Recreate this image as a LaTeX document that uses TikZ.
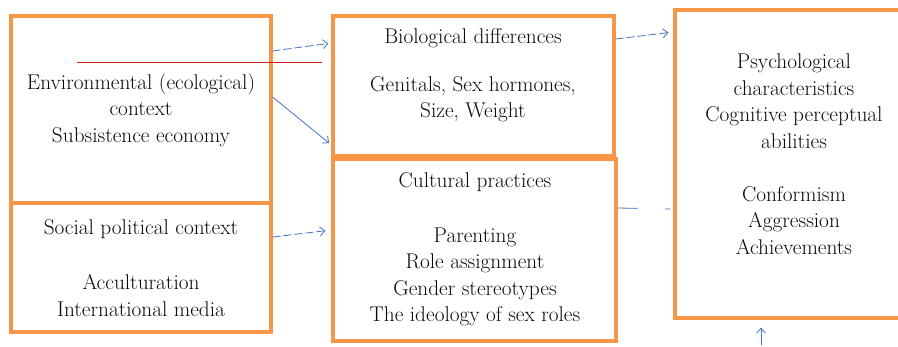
\documentclass[tikz,border=0pt]{standalone}
\usetikzlibrary{arrows.meta}
\definecolor{boxorange}{RGB}{247,150,70}
\definecolor{arrowblue}{RGB}{68,114,196}
\definecolor{redline}{RGB}{200,30,30}
\definecolor{txt}{RGB}{10,10,10}
\tikzset{
  box/.style={draw=boxorange, line width=3.2pt, rectangle, inner sep=0pt},
  boxtext/.style={align=center, inner sep=0pt, text=txt, font=\fontsize{21.3}{26.5}\selectfont},
  conn/.style={draw=arrowblue, line width=0.8pt, -{Straight Barb[length=5pt,width=9pt]}},
  dashconn/.style={conn, dash pattern=on 8pt off 3pt},
}
\begin{document}
\begin{tikzpicture}[x=1pt,y=-1pt]
\useasboundingbox (0,0) rectangle (898,346);
% boxes
\node[box, minimum width=260pt, minimum height=187pt] (env) at (141,109.5) {};
\node[box, minimum width=260pt, minimum height=129pt] (soc) at (141,267.5) {};
\node[box, minimum width=281pt, minimum height=140pt] (bio) at (473.5,86) {};
\node[box, minimum width=283pt, minimum height=182pt] (cult) at (474.5,250) {};
\node[box, minimum width=238pt, minimum height=308pt] (psy) at (794,164) {};
% texts
\node[boxtext] (envtext) at (141,110) {Environmental (ecological)\\context\\Subsistence economy};
\node[boxtext] (soctext) at (141,268) {Social political context\\[28.5pt]Acculturation\\International media};
\node[boxtext] (biotext) at (473,75) {Biological differences\\[21.5pt]Genitals, Sex hormones,\\Size, Weight};
\node[boxtext] (culttext) at (475,249) {Cultural practices\\[28.5pt]Parenting\\Role assignment\\Gender stereotypes\\The ideology of sex roles};
\node[boxtext] (psytext) at (794,154) {Psychological\\characteristics\\Cognitive perceptual\\abilities\\[26.5pt]Conformism\\Aggression\\Achievements};
% red line
\coordinate (redA) at (77,62);
\coordinate (redB) at (322,62);
\draw[redline, line width=0.9pt] (redA) -- (redB);
% connectors
\draw[dashconn, shorten >=3pt] (env.east |- 0,51) -- (bio.west |- 0,43);
\draw[conn, shorten >=3pt] (env.east |- 0,97) -- (bio.west |- 0,145);
\draw[dashconn, shorten >=6pt] (soc.east |- 0,237) -- (cult.west |- 0,230);
\draw[dashconn, shorten >=5pt] (bio.east |- 0,39) -- (psy.west |- 0,32);
\draw[draw=arrowblue, line width=0.8pt, dash pattern=on 20pt off 28pt on 5pt off 20pt, shorten >=2pt] (cult.east |- 0,208) -- (psy.west |- 0,209);
\coordinate (foot) at (761,345);
\draw[conn, shorten >=8pt] (foot) -- (psy.south -| 761,0);
\end{tikzpicture}
\end{document}
